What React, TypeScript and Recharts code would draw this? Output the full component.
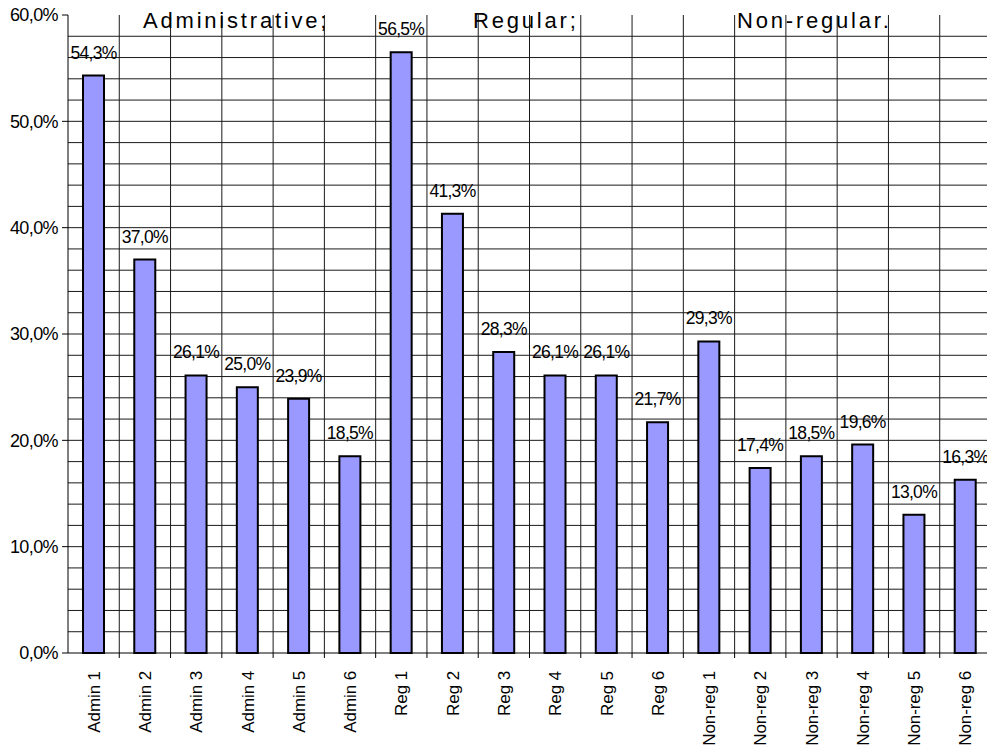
import { BarChart, Bar, XAxis, YAxis, CartesianGrid, LabelList } from "recharts";

const categories = [
  "Admin 1", "Admin 2", "Admin 3", "Admin 4", "Admin 5", "Admin 6",
  "Reg 1", "Reg 2", "Reg 3", "Reg 4", "Reg 5", "Reg 6",
  "Non-reg 1", "Non-reg 2", "Non-reg 3", "Non-reg 4", "Non-reg 5", "Non-reg 6",
];
const shares = [
  54.3, 37.0, 26.1, 25.0, 23.9, 18.5,
  56.5, 41.3, 28.3, 26.1, 26.1, 21.7,
  29.3, 17.4, 18.5, 19.6, 13.0, 16.3,
];
const yTicks = [0, 10, 20, 30, 40, 50, 60];
const gridSteps = [2, 4, 6, 8, 10, 12, 14, 16, 18, 20, 22, 24, 26, 28, 30, 32, 34, 36, 38, 40, 42, 44, 46, 48, 50, 52, 54, 56, 58];
const groups = [
  { text: "Administrative;", x: 143 },
  { text: "Regular;", x: 473 },
  { text: "Non-regular.", x: 737 },
];

const FONT = "'Liberation Sans', Arial, sans-serif";
const fmt = (v: number) => v.toFixed(1).replace(".", ",") + "%";

const data = categories.map((name, i) => ({ name, value: shares[i] }));

function XTick(props: any) {
  const { x, y, payload } = props;
  const half = payload?.offset > 0 ? payload.offset : 25.65;
  const ty = y + 10;
  return (
    <g>
      <line x1={x + half} x2={x + half} y1={y - 8} y2={y - 3} stroke="#000" />
      <text
        x={x}
        y={ty}
        dy="0.36em"
        transform={`rotate(-90, ${x}, ${ty})`}
        textAnchor="end"
        fontFamily={FONT}
        fontSize={17}
        letterSpacing={-0.1}
        fill="#000"
      >
        {payload.value}
      </text>
    </g>
  );
}

function ValueLabel(props: any) {
  const { x, y, width, value } = props;
  return (
    <text
      x={x + width / 2}
      y={y - 17}
      textAnchor="middle"
      fontFamily={FONT}
      fontSize={17.5}
      letterSpacing={-0.7}
      fill="#000"
    >
      {fmt(value)}
    </text>
  );
}

export default function App() {
  return (
    <div style={{ position: "absolute", left: 0, top: 0, width: 987, height: 745, overflow: "hidden", background: "#fff" }}>
      <BarChart
        width={999}
        height={745}
        data={data}
        margin={{ top: 15, right: 8, bottom: 0, left: 0 }}
        barCategoryGap={0}
      >
        <CartesianGrid
          stroke="#1a1a1a"
          strokeWidth={1}
          verticalCoordinatesGenerator={({ offset }: any) =>
            categories.map((_, i) => offset.left + ((i + 1) * offset.width) / categories.length)
          }
          horizontalCoordinatesGenerator={({ offset }: any) =>
            gridSteps.map((v) => offset.top + offset.height * (1 - v / 60))
          }
        />
        <XAxis
          dataKey="name"
          interval={0}
          height={92}
          tickLine={false}
          axisLine={{ stroke: "#000" }}
          tick={<XTick />}
        />
        <YAxis
          width={68}
          domain={[0, 60]}
          ticks={yTicks}
          interval={0}
          tickSize={6}
          tickMargin={4}
          tickLine={{ stroke: "#000" }}
          axisLine={{ stroke: "#000" }}
          tickFormatter={fmt}
          tick={{ fontFamily: FONT, fontSize: 18, fill: "#000", letterSpacing: -0.6 }}
        />
        <Bar dataKey="value" fill="#9999ff" stroke="#000" strokeWidth={2} barSize={21} isAnimationActive={false}>
          <LabelList dataKey="value" content={<ValueLabel />} />
        </Bar>
        {groups.map((g) => (
          <text
            key={g.text}
            x={g.x}
            y={28}
            fontFamily={FONT}
            fontSize={22}
            letterSpacing={2.8}
            fill="#000"
          >
            {g.text}
          </text>
        ))}
      </BarChart>
    </div>
  );
}
